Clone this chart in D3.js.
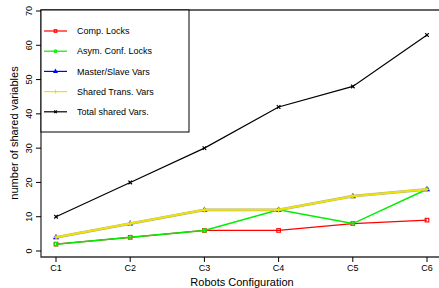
<!DOCTYPE html>
<html>
<head>
  <meta charset="utf-8">
  <title>shared variables</title>
  <style>
    body { margin: 0; background: #fff; }
    text { font-family: "Liberation Sans", Arial, sans-serif; fill: #000; }
  </style>
</head>
<body>
<script src="https://d3js.org/d3.v7.min.js"></script>
<script>
  var width = 439;
  var height = 288;

  var configs = ['C1', 'C2', 'C3', 'C4', 'C5', 'C6'];
  var yTicks = [0, 10, 20, 30, 40, 50, 60, 70];

  var compLocks = [2, 4, 6, 6, 8, 9];
  var asymLocks = [2, 4, 6, 12, 8, 18];
  var masterSlave = [4, 8, 12, 12, 16, 18];
  var sharedTrans = [4, 8, 12, 12, 16, 18];
  var totalShared = [10, 20, 30, 42, 48, 63];

  var seriesNames = ['Comp. Locks', 'Asym. Conf. Locks', 'Master/Slave Vars', 'Shared Trans. Vars', 'Total shared Vars.'];

  var series = [
    { name: seriesNames[0], values: compLocks, color: '#ff0000', shape: 'square', width: 1.2 },
    { name: seriesNames[1], values: asymLocks, color: '#00ee00', shape: 'circle', width: 1.5 },
    { name: seriesNames[2], values: masterSlave, color: '#0000ff', shape: 'triangle', width: 1.2 },
    { name: seriesNames[3], values: sharedTrans, color: '#eee400', shape: 'plus', width: 2, under: '#aaaaaa' },
    { name: seriesNames[4], values: totalShared, color: '#000000', shape: 'cross', width: 1.2 }
  ];

  var svg = d3.select('body')
    .append('svg')
      .attr('width', width)
      .attr('height', height);

  var x = d3.scalePoint()
    .domain(configs)
    .range([56, 427]);

  var y = d3.scaleLinear()
    .domain([0, 70])
    .range([251, 11]);

  var plotLeft = 41, plotTop = 10, plotBottom = 257;

  // plot frame (right side falls outside the picture)
  svg.append('path')
    .attr('d', 'M' + (width + 5) + ',' + plotTop + 'H' + plotLeft + 'V' + plotBottom + 'H' + (width + 5))
    .attr('fill', 'none')
    .attr('stroke', '#333')
    .attr('stroke-width', 1.3);

  // x axis
  var xAxis = svg.append('g');
  configs.forEach(function(c) {
    xAxis.append('line')
      .attr('x1', x(c)).attr('x2', x(c))
      .attr('y1', plotBottom).attr('y2', plotBottom + 5)
      .attr('stroke', '#000');
    xAxis.append('text')
      .attr('x', x(c))
      .attr('y', 271)
      .attr('text-anchor', 'middle')
      .attr('font-size', 9)
      .text(c);
  });

  // y axis
  var yAxis = svg.append('g');
  yTicks.forEach(function(t) {
    yAxis.append('line')
      .attr('x1', plotLeft - 5).attr('x2', plotLeft)
      .attr('y1', y(t)).attr('y2', y(t))
      .attr('stroke', '#000');
    yAxis.append('text')
      .attr('transform', 'translate(32,' + y(t) + ') rotate(-90)')
      .attr('text-anchor', 'middle')
      .attr('font-size', 9)
      .text(t);
  });

  svg.append('text')
    .attr('x', 242)
    .attr('y', 286)
    .attr('text-anchor', 'middle')
    .attr('font-size', 11)
    .text('Robots Configuration');

  svg.append('text')
    .attr('transform', 'translate(18,133) rotate(-90)')
    .attr('text-anchor', 'middle')
    .attr('font-size', 11)
    .text('number of shared variables');

  var line = d3.line()
    .x(function(d, i) { return x(configs[i]); })
    .y(function(d) { return y(d); });

  function marker(g, shape, cx, cy, color, s) {
    if (shape === 'square') {
      g.append('rect').attr('x', cx - s).attr('y', cy - s).attr('width', 2 * s).attr('height', 2 * s)
        .attr('fill', 'none').attr('stroke', color).attr('stroke-width', 1.1);
    } else if (shape === 'circle') {
      g.append('circle').attr('cx', cx).attr('cy', cy).attr('r', s)
        .attr('fill', 'none').attr('stroke', color).attr('stroke-width', 1.1);
    } else if (shape === 'triangle') {
      g.append('path').attr('d', 'M' + cx + ',' + (cy - s * 1.3) + 'L' + (cx + s * 1.2) + ',' + (cy + s * 0.8) + 'L' + (cx - s * 1.2) + ',' + (cy + s * 0.8) + 'Z')
        .attr('fill', 'none').attr('stroke', color).attr('stroke-width', 1.1);
    } else if (shape === 'plus') {
      g.append('path').attr('d', 'M' + (cx - s * 1.4) + ',' + cy + 'H' + (cx + s * 1.4) + 'M' + cx + ',' + (cy - s * 1.4) + 'V' + (cy + s * 1.4))
        .attr('stroke', color).attr('stroke-width', 1.1);
    } else if (shape === 'cross') {
      g.append('path').attr('d', 'M' + (cx - s) + ',' + (cy - s) + 'L' + (cx + s) + ',' + (cy + s) + 'M' + (cx - s) + ',' + (cy + s) + 'L' + (cx + s) + ',' + (cy - s))
        .attr('stroke', color).attr('stroke-width', 1.2);
    }
  }

  var plot = svg.append('g');
  series.forEach(function(s) {
    var g = plot.append('g');
    if (s.under) {
      g.append('path')
        .attr('d', line(s.values))
        .attr('fill', 'none')
        .attr('stroke', s.under)
        .attr('stroke-width', s.width + 0.8);
    }
    g.append('path')
      .attr('d', line(s.values))
      .attr('fill', 'none')
      .attr('stroke', s.color)
      .attr('stroke-width', s.width);
    s.values.forEach(function(v, i) {
      marker(g, s.shape, x(configs[i]), y(v), s.color, 1.8);
    });
  });

  // legend
  var legend = svg.append('g');
  legend.append('rect')
    .attr('x', plotLeft).attr('y', plotTop)
    .attr('width', 148).attr('height', 122)
    .attr('fill', '#fff')
    .attr('stroke', '#000')
    .attr('stroke-width', 1);

  series.forEach(function(s, i) {
    var ly = 31 + i * 20.2;
    legend.append('line')
      .attr('x1', 44).attr('x2', 67)
      .attr('y1', ly).attr('y2', ly)
      .attr('stroke', s.color)
      .attr('stroke-width', 1.2);
    marker(legend, s.shape, 55.5, ly, s.color, 1.3);
    legend.append('text')
      .attr('x', 77)
      .attr('y', ly + 3.2)
      .attr('font-size', 9)
      .text(s.name);
  });
</script>
</body>
</html>
